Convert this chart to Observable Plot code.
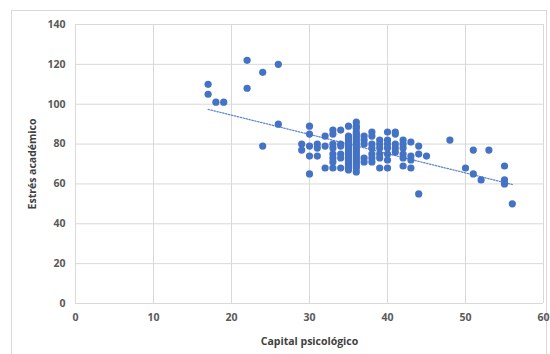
<!DOCTYPE html>
<html>
<head>
<meta charset="utf-8">
<script src="https://cdn.jsdelivr.net/npm/d3@7"></script>
<script src="https://cdn.jsdelivr.net/npm/@observablehq/plot@0.6"></script>
<style>
  html, body { margin: 0; padding: 0; background: #fff; }
  #wrap { position: relative; width: 550px; height: 354px; overflow: hidden; }
  #border { position: absolute; left: 11px; top: 10px; width: 536px; height: 360px; border: 1px solid #d9d9d9; box-sizing: border-box; }
  #chart { position: absolute; left: 0; top: 0; }
</style>
</head>
<body>
<div id="wrap"><div id="border"></div><div id="chart"></div></div>
<script>
// Capital psicológico (x) and Estrés académico (y) per student
const capital = [
  17, 17, 18, 19, 22, 22, 24, 26, 26, 24,
  29, 29,
  30, 30, 30, 30, 30,
  31, 31, 31,
  32, 32, 32,
  33, 33, 33, 33, 33, 33, 33, 33,
  34, 34, 34, 34, 34, 34,
  35, 35, 35, 35, 35, 35, 35, 35, 35, 35, 35, 35, 35, 35, 35, 35, 35, 35, 35,
  36, 36, 36, 36, 36, 36, 36, 36, 36, 36, 36, 36, 36, 36, 36, 36, 36, 36, 36, 36, 36, 36, 36,
  37, 37, 37, 37, 37,
  38, 38, 38, 38, 38, 38, 38,
  39, 39, 39, 39, 39, 39,
  40, 40, 40, 40, 40, 40, 40,
  41, 41, 41, 41, 41,
  42, 42, 42, 42, 42, 42,
  43, 43, 43, 43,
  44, 44, 44,
  45,
  48, 50, 51, 51, 52, 53, 55, 55, 55, 56
];
const estres = [
  110, 105, 101, 101, 122, 108, 116, 120, 90, 79,
  80, 77,
  89, 85, 79, 74, 65,
  80, 78, 74,
  84, 79, 68,
  87, 85, 80, 78, 75, 73, 71, 68,
  87, 80, 79, 75, 73, 68,
  89, 84, 83, 82, 81, 80, 79, 78, 77, 76, 75, 74, 73, 72, 71, 70, 69, 68, 67,
  91, 89, 88, 86, 85, 84, 83, 82, 81, 80, 79, 78, 77, 76, 75, 74, 73, 72, 71, 70, 69, 68, 66,
  84, 82, 80, 73, 71,
  86, 84, 80, 78, 75, 73, 71,
  82, 80, 78, 75, 73, 68,
  86, 82, 80, 78, 75, 72, 68,
  86, 85, 80, 78, 76,
  82, 80, 78, 75, 73, 69,
  81, 74, 72, 68,
  79, 75, 55,
  74,
  82, 68, 77, 65, 62, 77, 69, 62, 60, 50
];
const xTicks = [0, 10, 20, 30, 40, 50, 60];
const yTicks = [0, 20, 40, 60, 80, 100, 120, 140];

const data = capital.map((c, i) => ({capital: c, estres: estres[i]}));

const blue = "#4472C4";
const grid = "#d9d9d9";
const txt = "#595959";

const chart = Plot.plot({
  width: 550,
  height: 354,
  marginLeft: 75,
  marginRight: 7,
  marginTop: 24,
  marginBottom: 51,
  style: { fontFamily: "'Open Sans', sans-serif", fontSize: "10.5px", color: txt, background: "transparent" },
  x: { domain: [0, 60], ticks: xTicks },
  y: { domain: [0, 140], ticks: yTicks },
  marks: [
    Plot.gridX(xTicks, { stroke: grid, strokeOpacity: 1, strokeWidth: 1 }),
    Plot.gridY(yTicks, { stroke: grid, strokeOpacity: 1, strokeWidth: 1 }),
    Plot.axisX(xTicks, { tickSize: 0, tickPadding: 10, fontWeight: "bold", fill: txt,
      label: "Capital psicológico", labelAnchor: "center", labelArrow: "none", labelOffset: 41 }),
    Plot.axisY(yTicks, { tickSize: 0, tickPadding: 10, fontWeight: "bold", fill: txt,
      label: "Estrés académico", labelAnchor: "center", labelArrow: "none", labelOffset: 47 }),
    Plot.linearRegressionY(data, { x: "capital", y: "estres", stroke: "#5b86d0", strokeWidth: 1.25, strokeDasharray: "1.5,1.5", ci: 0 }),
    Plot.dot(data, { x: "capital", y: "estres", r: 3.6, fill: blue, stroke: "none" })
  ]
});
chart.querySelectorAll("[aria-label='x-axis label'] text, [aria-label='y-axis label'] text").forEach(t => {
  t.setAttribute("font-weight", "bold");
  t.setAttribute("fill", "#404040");
});
document.getElementById("chart").appendChild(chart);
</script>
</body>
</html>
